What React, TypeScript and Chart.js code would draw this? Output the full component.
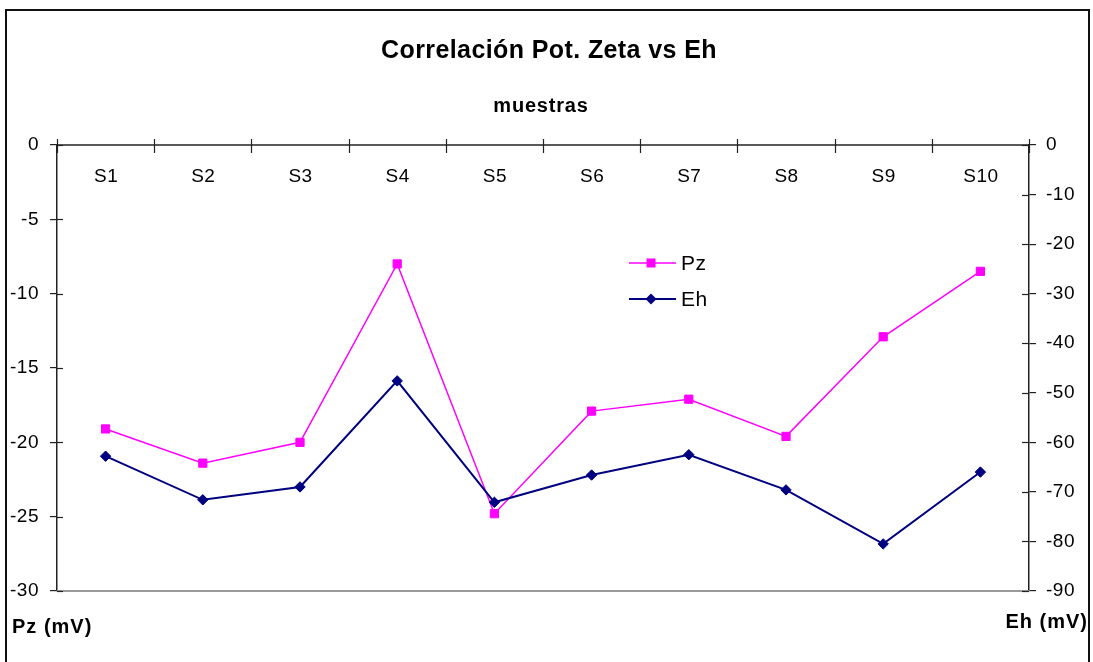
import React, { useEffect, useRef } from "react";
import { Chart, registerables } from "chart.js";

Chart.register(...registerables);

const categories = ["S1", "S2", "S3", "S4", "S5", "S6", "S7", "S8", "S9", "S10"];
const pzValues = [-19.1, -21.4, -20.0, -8.0, -24.8, -17.9, -17.1, -19.6, -12.9, -8.5];
const ehValues = [-62.8, -71.6, -69.0, -47.6, -72.1, -66.6, -62.5, -69.6, -80.5, -66.0];
const pzLabel = "Pz";
const ehLabel = "Eh";
const titleText = "Correlación Pot. Zeta vs Eh";
const xAxisTitle = "muestras";
const leftAxisTitle = "Pz (mV)";
const rightAxisTitle = "Eh (mV)";

const FONT = "'Liberation Sans', Arial, sans-serif";
const W = 1093;
const H = 662;

const decor = {
  id: "decor",
  beforeDraw(chart: any) {
    const ctx = chart.ctx;
    ctx.save();
    ctx.fillStyle = "#ffffff";
    ctx.fillRect(0, 0, chart.width, chart.height);
    ctx.restore();
    ctx.letterSpacing = "0.5px";
  },
  afterDraw(chart: any) {
    const ctx = chart.ctx;
    const a = chart.chartArea;
    const xs = chart.scales.x;
    const yl = chart.scales.y;
    const yr = chart.scales.y1;
    const line = (x1: number, y1: number, x2: number, y2: number) => {
      ctx.beginPath();
      ctx.moveTo(x1, y1);
      ctx.lineTo(x2, y2);
      ctx.stroke();
    };
    ctx.save();
    // bottom plot border
    ctx.strokeStyle = "#9a9a9a";
    ctx.lineWidth = 2;
    line(a.left, a.bottom, a.right, a.bottom);
    // top category axis
    ctx.strokeStyle = "#222";
    ctx.lineWidth = 1.5;
    line(a.left, a.top, a.right, a.top);
    const p0 = xs.getPixelForValue(0);
    const step = xs.getPixelForValue(1) - p0;
    ctx.lineWidth = 1.2;
    for (let i = 0; i <= categories.length; i++) {
      const px = Math.round(p0 - step / 2 + i * step) + 0.5;
      line(px, a.top - 6, px, a.top + 8);
    }
    // inner parts of value-axis ticks
    yl.ticks.forEach((t: any) => {
      const py = Math.round(yl.getPixelForValue(t.value)) + 0.5;
      line(a.left, py, a.left + 6, py);
    });
    yr.ticks.forEach((t: any) => {
      const py = Math.round(yr.getPixelForValue(t.value)) + 0.5;
      line(a.right - 7, py, a.right, py);
    });
    // category labels
    ctx.fillStyle = "#000";
    ctx.font = `19px ${FONT}`;
    ctx.letterSpacing = "0.5px";
    ctx.textAlign = "center";
    ctx.textBaseline = "middle";
    categories.forEach((c, i) => {
      ctx.fillText(c, xs.getPixelForValue(i) + 0.5, 177);
    });
    // title
    ctx.font = `bold 25px ${FONT}`;
    ctx.letterSpacing = "0.4px";
    ctx.textBaseline = "alphabetic";
    ctx.fillText(titleText, 549, 58);
    ctx.font = `bold 20px ${FONT}`;
    ctx.letterSpacing = "0.8px";
    ctx.fillText(xAxisTitle, 541, 112);
    // axis titles
    ctx.letterSpacing = "1px";
    ctx.textAlign = "left";
    ctx.fillText(leftAxisTitle, 12, 633);
    ctx.textAlign = "right";
    ctx.fillText(rightAxisTitle, 1088, 628);
    // legend
    const ds = chart.data.datasets;
    const legendRows = [
      { d: ds[0], y: 263 },
      { d: ds[1], y: 299 },
    ];
    ctx.letterSpacing = "0.5px";
    legendRows.forEach(({ d, y }) => {
      ctx.strokeStyle = d.borderColor;
      ctx.lineWidth = d.borderWidth;
      line(629, y, 676, y);
      ctx.fillStyle = d.backgroundColor;
      ctx.beginPath();
      if (d.pointStyle === "rect") {
        ctx.rect(651 - 4.5, y - 4.5, 9, 9);
      } else {
        ctx.moveTo(651 - 5.5, y);
        ctx.lineTo(651, y - 5.5);
        ctx.lineTo(651 + 5.5, y);
        ctx.lineTo(651, y + 5.5);
        ctx.closePath();
      }
      ctx.fill();
      ctx.fillStyle = "#000";
      ctx.font = `21px ${FONT}`;
      ctx.textAlign = "left";
      ctx.textBaseline = "middle";
      ctx.fillText(d.label, 681, y + 1);
    });
    // outer frame
    ctx.strokeStyle = "#111";
    ctx.lineWidth = 2;
    ctx.strokeRect(6, 10, 1083, 700);
    ctx.restore();
  },
};

export default function App() {
  const ref = useRef<HTMLCanvasElement | null>(null);
  useEffect(() => {
    if (!ref.current) return;
    const tickFont = { family: FONT, size: 19 };
    const chart = new Chart(ref.current, {
      type: "line",
      data: {
        labels: categories,
        datasets: [
          {
            label: pzLabel,
            data: pzValues,
            yAxisID: "y",
            borderColor: "#FF00FF",
            backgroundColor: "#FF00FF",
            borderWidth: 1.5,
            pointStyle: "rect",
            pointRadius: 5.8,
            pointBorderWidth: 1,
            pointBackgroundColor: "#FF00FF",
            pointBorderColor: "#FF00FF",
            tension: 0,
            order: 1,
          },
          {
            label: ehLabel,
            data: ehValues,
            yAxisID: "y1",
            borderColor: "#000080",
            backgroundColor: "#000080",
            borderWidth: 2,
            pointStyle: "rectRot",
            pointRadius: 5.2,
            pointBorderWidth: 1,
            pointBackgroundColor: "#000080",
            pointBorderColor: "#000080",
            tension: 0,
            order: 0,
          },
        ],
      },
      options: {
        responsive: false,
        animation: false,
        devicePixelRatio: 1,
        layout: { padding: { top: 145, bottom: 71, left: 0, right: 0 } },
        plugins: {
          legend: { display: false },
          title: { display: false },
          tooltip: { enabled: false },
        },
        scales: {
          x: {
            type: "category",
            offset: true,
            display: false,
          },
          y: {
            position: "left",
            min: -30,
            max: 0,
            ticks: { stepSize: 5, color: "#000", font: tickFont, padding: 11 },
            grid: { drawOnChartArea: false, drawTicks: true, tickLength: 7, color: "#222", lineWidth: 1.2 },
            border: { display: true, color: "#222", width: 1.5 },
            afterFit: (s: any) => {
              s.width = 57;
            },
          },
          y1: {
            position: "right",
            min: -90,
            max: 0,
            ticks: { stepSize: 10, color: "#000", font: tickFont, padding: 10 },
            grid: { drawOnChartArea: false, drawTicks: true, tickLength: 7, color: "#222", lineWidth: 1.2 },
            border: { display: true, color: "#222", width: 1.5 },
            afterFit: (s: any) => {
              s.width = 64;
            },
          },
        },
      } as any,
      plugins: [decor],
    });
    return () => chart.destroy();
  }, []);
  return (
    <div style={{ position: "fixed", left: 0, top: 0, width: W, height: H, background: "#fff" }}>
      <canvas ref={ref} width={W} height={H} style={{ display: "block" }} />
    </div>
  );
}
